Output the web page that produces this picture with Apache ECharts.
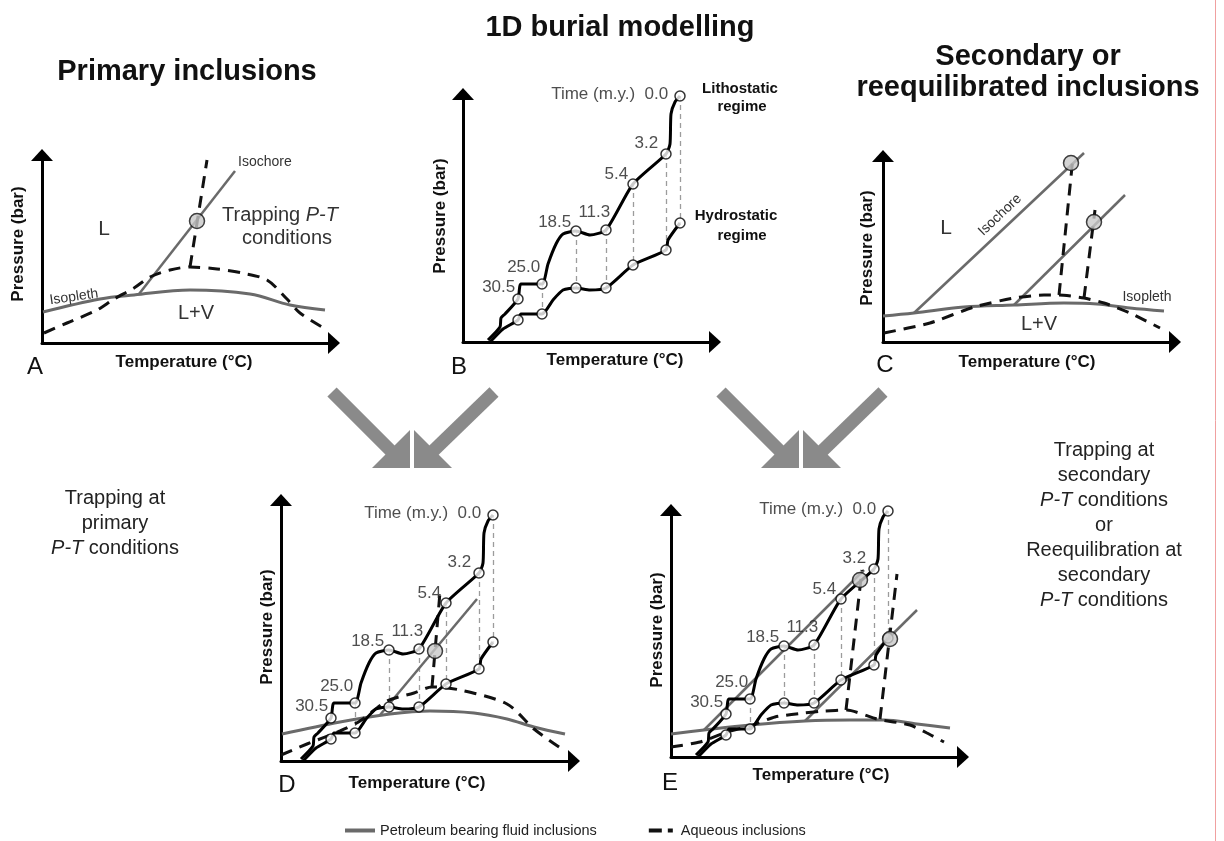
<!DOCTYPE html>
<html><head><meta charset="utf-8">
<script src="https://cdn.jsdelivr.net/npm/echarts@6/dist/echarts.min.js"></script>
<style>html,body{margin:0;padding:0;background:#fff}#c{width:1224px;height:841px}</style>
</head><body><div id="c"></div><script>
// ---------------- DATA ----------------
// 1D burial model (shared by panels B, D, E); x = temperature, y = pressure (arbitrary units)
const timeLabels = ['30.5', '25.0', '18.5', '11.3', '5.4', '3.2', '0.0'];
const lithoPath = [[25,2],[37,15],[38,24],[42,28],[55,43],[58,58],[79,58],[85,78],[93,98],[100,108],[113,111],[127,107],[143,112],[170,158],[203,188],[207,198],[208,228],[212,240],[217,246]];
const hydroPath = [[27,0],[40,13],[55,22],[58,28],[79,28],[90,42],[100,52],[113,54],[127,52],[143,54],[170,77],[203,92],[205,102],[217,119]];
const lithoNodes = [[55,43],[79,58],[113,111],[143,112],[170,158],[203,188],[217,246]];
const hydroNodes = [[55,22],[79,28],[113,54],[143,54],[170,77],[203,92],[217,119]];

// Panel A – primary inclusions
const aIsopleth = [[1,31],[58,44],[92,48],[148,53],[208,49],[248,38],[283,33]];
const aIsochore = [[97,49],[193,172]];
const aAqueous = [[2,10],[25,20],[55,33],[72,44],[92,55],[108,66],[128,73],[148,76],[175,74],[200,70],[225,63],[245,44],[258,30],[280,16]];
const aAqueousIsochore = [[148,76],[165,183]];
const aTrap = [[155,122]];

// Panel C – secondary / reequilibrated inclusions
const cIsopleth = [[0,26],[31,29],[81,35],[131,37],[181,39],[214,38],[247,34],[281,31]];
const cIsochore1 = [[31,29],[201,189]];
const cIsochore2 = [[131,37],[242,147]];
const cAqueous = [[1,9],[47,19],[91,35],[131,44],[161,47],[176,47],[201,44],[221,39],[247,29],[277,14]];
const cAqueousIsochore1 = [[176,47],[190,185]];
const cAqueousIsochore2 = [[201,44],[212,132]];
const cTrap = [[188,179],[211,120]];

// Panel D – burial + primary
const dIsopleth = [[6,27],[64,39],[114,47],[154,50],[198,48],[231,42],[258,34],[289,27]];
const dIsochore = [[104,46],[201,162]];
const dAqueous = [[5,6],[31,17],[64,30],[84,40],[111,60],[138,68],[156,74],[184,71],[231,57],[258,32],[286,12]];
const dAqueousIsochore = [[156,74],[164,169]];
const dTrap = [[159,110]];

// Panel E – burial + secondary
const eIsopleth = [[0,23],[33,27],[79,32],[134,36],[179,37],[213,37],[246,33],[279,29]];
const eIsochore1 = [[33,27],[193,187]];
const eIsochore2 = [[134,36],[246,147]];
const eAqueous = [[0,10],[29,15],[56,25],[79,31],[104,40],[133,44],[153,46],[176,47],[206,38],[239,32],[256,24],[273,15]];
const eAqueousIsochore1 = [[175,47],[191,187]];
const eAqueousIsochore2 = [[209,38],[226,183]];
const eTrap = [[189,177],[219,118]];

// ---------------- LAYOUT / STYLE ----------------
const FONT = '"Liberation Sans", Arial, Helvetica, sans-serif';
const PET = 'Petroleum bearing fluid inclusions';
const AQ = 'Aqueous inclusions';
const GRAY = '#6a6a6a';
const labelShift = [[3,-12],[4,-17],[1,-9],[10,-18],[1,-10],[-2,-11],[-6,-2]];

// grids: A, B, C, D, E
const panels = [
  {left:42,  top:155, width:292, height:188, xmin:0},
  {left:463, top:94,  width:252, height:248, xmin:0},
  {left:883, top:156, width:292, height:186, xmin:0},
  {left:281, top:500, width:293, height:261, xmin:5},
  {left:671, top:510, width:292, height:247, xmin:0}
];

const grid = panels.map(p => ({left:p.left, top:p.top, width:p.width, height:p.height}));
const axisLine = {show:true, onZero:false, symbol:['none','triangle'], symbolSize:[22,12], lineStyle:{color:'#000', width:3}};
const xAxis = panels.map((p,i) => ({type:'value', gridIndex:i, min:p.xmin, max:p.xmin+p.width, axisLine,
  axisTick:{show:false}, axisLabel:{show:false}, splitLine:{show:false}}));
const yAxis = panels.map((p,i) => ({type:'value', gridIndex:i, min:0, max:p.height, axisLine,
  axisTick:{show:false}, axisLabel:{show:false}, splitLine:{show:false}}));

function pet(i, data, w) {
  return {type:'line', name:PET, xAxisIndex:i, yAxisIndex:i, data, smooth: data.length > 2 ? 0.35 : false,
    symbol:'none', clip:false, silent:true, z:2,
    lineStyle:{color:GRAY, width:w || 3}, itemStyle:{color:GRAY}};
}
function aq(i, data, sm) {
  return {type:'line', name:AQ, xAxisIndex:i, yAxisIndex:i, data, smooth: sm || false,
    symbol:'none', clip:false, silent:true, z:3,
    lineStyle:{color:'#111', width:3, type:[12,8]}, itemStyle:{color:'#111'}};
}
function trap(i, data) {
  return {type:'scatter', xAxisIndex:i, yAxisIndex:i, data, symbolSize:15, clip:false, silent:true, z:9,
    itemStyle:{color:'#c8c8c8', borderColor:'#111', borderWidth:1.5}};
}
function burial(i) {
  return [
    {type:'lines', coordinateSystem:'cartesian2d', xAxisIndex:i, yAxisIndex:i, silent:true, z:1,
      data: lithoNodes.slice(1).map((p,k) => ({coords:[p, hydroNodes[k+1]]})),
      lineStyle:{color:'#9c9c9c', width:1.3, type:[5,4], opacity:1}},
    {type:'line', xAxisIndex:i, yAxisIndex:i, data:lithoPath, smooth:0.2, symbol:'none', clip:false, silent:true, z:5,
      lineStyle:{color:'#000', width:3}},
    {type:'line', xAxisIndex:i, yAxisIndex:i, data:hydroPath, smooth:0.2, symbol:'none', clip:false, silent:true, z:5,
      lineStyle:{color:'#000', width:3}},
    {type:'scatter', xAxisIndex:i, yAxisIndex:i, symbolSize:10, clip:false, silent:true, z:7,
      itemStyle:{color:'#fff', borderColor:'#000', borderWidth:1.5},
      label:{show:true, position:'left', distance:0, fontSize:17, color:'#222', fontFamily:FONT},
      data: lithoNodes.map((p,k) => ({value:p, label:{offset:labelShift[k],
        formatter: k === timeLabels.length-1 ? 'Time (m.y.)  ' + timeLabels[k] : timeLabels[k]}}))},
    {type:'scatter', xAxisIndex:i, yAxisIndex:i, symbolSize:10, clip:false, silent:true, z:7,
      itemStyle:{color:'#fff', borderColor:'#000', borderWidth:1.5}, data: hydroNodes}
  ];
}

const series = [
  // A
  pet(0, aIsopleth), pet(0, aIsochore, 2.5), aq(0, aAqueous, 0.3), aq(0, aAqueousIsochore), trap(0, aTrap),
  // B
  ...burial(1),
  // C
  pet(2, cIsopleth), pet(2, cIsochore1, 2.5), pet(2, cIsochore2, 2.5),
  aq(2, cAqueous, 0.2), aq(2, cAqueousIsochore1), aq(2, cAqueousIsochore2), trap(2, cTrap),
  // D
  pet(3, dIsopleth), pet(3, dIsochore, 2.5), aq(3, dAqueous, 0.3), aq(3, dAqueousIsochore), ...burial(3), trap(3, dTrap),
  // E
  pet(4, eIsopleth), pet(4, eIsochore1, 2.5), pet(4, eIsochore2, 2.5),
  aq(4, eAqueous, 0.2), aq(4, eAqueousIsochore1), aq(4, eAqueousIsochore2), ...burial(4), trap(4, eTrap)
];

// ---------------- TEXT & DECORATION ----------------
function T(x, y, text, size, o) {
  o = o || {};
  return {type:'text', x, y, rotation:o.rot || 0, silent:true, z:20,
    style:{text, fontSize:size, fontFamily:FONT, fontWeight:o.bold ? 'bold' : 'normal',
      fill:o.color || '#111', align:o.align || 'center', verticalAlign:'middle',
      textAlign:o.align || 'center', textVerticalAlign:'middle',
      rich:{i:{fontStyle:'italic', fontSize:size, fontFamily:FONT, fill:o.color || '#111'}}}};
}
const texts = [];
// titles
texts.push(T(187, 72, 'Primary inclusions', 29, {bold:true}));
texts.push(T(620, 28, '1D burial modelling', 29, {bold:true}));
texts.push(T(1028, 57, 'Secondary or', 29, {bold:true}));
texts.push(T(1028, 88, 'reequilibrated inclusions', 29, {bold:true}));
// axis names
const axisNames = [[18,244,184,362],[440,216,615,360],[867,248,1027,362],[267,627,417,783],[657,630,821,775]];
axisNames.forEach(a => {
  texts.push(T(a[0], a[1], 'Pressure (bar)', 17, {bold:true, rot:Math.PI/2}));
  texts.push(T(a[2], a[3], 'Temperature (°C)', 17, {bold:true}));
});
// panel letters
[['A',35,367],['B',459,367],['C',885,365],['D',287,785],['E',670,783]].forEach(l => texts.push(T(l[1], l[2], l[0], 24)));
// Panel A annotations
texts.push(T(238, 162, 'Isochore', 14, {align:'left', color:'#333'}));
texts.push(T(104, 229, 'L', 21, {color:'#333'}));
texts.push(T(280, 215, 'Trapping {i|P-T}', 20, {color:'#333'}));
texts.push(T(287, 238, 'conditions', 20, {color:'#333'}));
texts.push(T(74, 297, 'Isopleth', 14, {rot:0.14, color:'#333'}));
texts.push(T(196, 313, 'L+V', 20, {color:'#333'}));
// Panel B annotations
texts.push(T(740, 89, 'Lithostatic', 15, {bold:true}));
texts.push(T(742, 107, 'regime', 15, {bold:true}));
texts.push(T(736, 216, 'Hydrostatic', 15, {bold:true}));
texts.push(T(742, 236, 'regime', 15, {bold:true}));
// Panel C annotations
texts.push(T(946, 228, 'L', 21, {color:'#333'}));
texts.push(T(1000, 215, 'Isochore', 14, {rot:0.76, color:'#333'}));
texts.push(T(1147, 297, 'Isopleth', 14, {color:'#333'}));
texts.push(T(1039, 324, 'L+V', 20, {color:'#333'}));
// side notes
['Trapping at', 'primary', '{i|P-T} conditions'].forEach((s,k) => texts.push(T(115, 498 + 25*k, s, 20, {color:'#222'})));
['Trapping at', 'secondary', '{i|P-T} conditions', 'or', 'Reequilibration at', 'secondary', '{i|P-T} conditions']
  .forEach((s,k) => texts.push(T(1104, 450 + 25*k, s, 20, {color:'#222'})));

// converging grey arrows
const arrows = [];
[412, 801].forEach(g => {
  const c = '#8a8a8a';
  arrows.push({type:'polyline', silent:true, shape:{points:[[g-80,392],[g-18,454]]}, style:{stroke:c, lineWidth:13, fill:null}});
  arrows.push({type:'polygon', silent:true, shape:{points:[[g-2,468],[g-2,430],[g-40,468]]}, style:{fill:c}});
  arrows.push({type:'polyline', silent:true, shape:{points:[[g+82,392],[g+18,454]]}, style:{stroke:c, lineWidth:13, fill:null}});
  arrows.push({type:'polygon', silent:true, shape:{points:[[g+2,468],[g+2,430],[g+40,468]]}, style:{fill:c}});
});
const border = {type:'line', silent:true, shape:{x1:1215.5, y1:0, x2:1215.5, y2:841}, style:{stroke:'#f0a0a0', lineWidth:1}};

const chart = echarts.init(document.getElementById('c'), null, {renderer:'canvas'});
chart.setOption({
  animation:false,
  backgroundColor:'#fff',
  grid, xAxis, yAxis, series,
  legend:{
    data:[
      {name:PET, icon:'path://M0,0H30V4H0Z', itemStyle:{color:GRAY}},
      {name:AQ, icon:'path://M0,0H13V4H0Z M19,0H24V4H19Z', itemStyle:{color:'#111'}}
    ],
    left:340, top:818, itemWidth:30, itemHeight:4, itemGap:52, selectedMode:false,
    textStyle:{fontSize:14.5, color:'#222', fontFamily:FONT}},
  graphic:{elements:[...arrows, ...texts, border]}
});
</script></body></html>
